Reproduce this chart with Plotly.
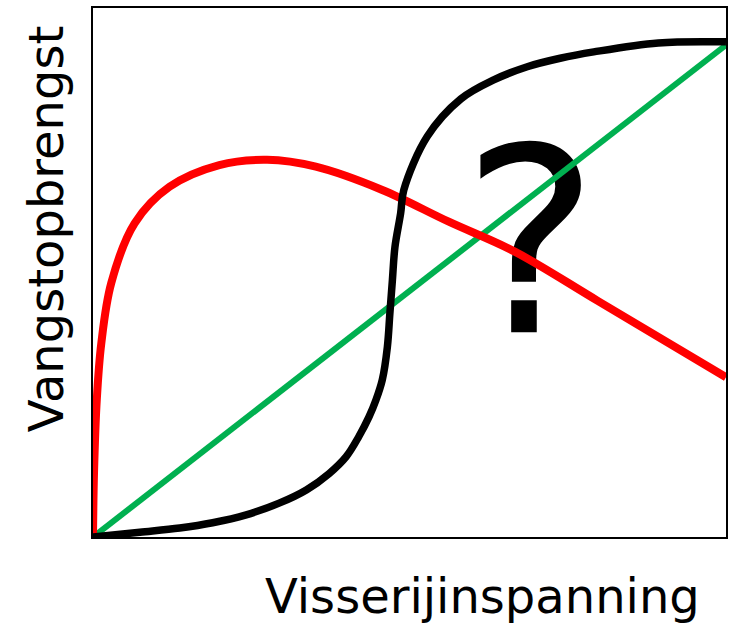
import plotly.graph_objects as go

# ---------------- data (x = effort, y = yield, both 0-100) ----------------
green_x = [0, 100]
green_y = [0, 93.0]

red_x = [0, 0.16, 0.6, 1.3, 2.88, 6.57, 12.08, 19.95, 27.5, 35.2, 45.7,
         56.2, 66.7, 79.8, 100]
red_y = [0, 12.1, 26.0, 36.5, 48.0, 59.3, 66.2, 70.3, 71.3, 70.0, 65.6,
         59.6, 53.9, 44.6, 30.2]

black_x = [0, 7.4, 13.7, 18.9, 24.2, 29.4, 33.7, 37.3, 40.0, 42.0, 43.6,
           44.7, 45.7, 46.5, 46.9, 47.3, 47.7, 48.6, 49.1, 52.8,
           58.1, 63.3, 68.6, 73.8, 79.1, 89.3, 100]
black_y = [0, 0.9, 1.7, 2.7, 4.2, 6.4, 8.9, 12.0, 15.2, 19.0, 22.7,
           25.9, 29.7, 35.9, 42.3, 48.6, 54.8, 61.2, 65.6, 75.7,
           82.8, 86.4, 88.9, 90.5, 91.7, 93.4, 93.6]

mark_x = [69.1]
mark_y = [50.9]
mark_text = ["?"]

FONT = "DejaVu Sans, Verdana, sans-serif"

fig = go.Figure()

# vraagteken onder de lijnen
fig.add_trace(go.Scatter(
    x=mark_x, y=mark_y, text=mark_text, mode='text',
    textposition='middle center',
    textfont=dict(size=258, color='black', family=FONT),
    hoverinfo='skip'
))

fig.add_trace(go.Scatter(
    x=green_x, y=green_y, mode='lines',
    line=dict(color='#00B050', width=6)
))

fig.add_trace(go.Scatter(
    x=red_x, y=red_y, mode='lines',
    line=dict(color='#FF0000', width=8, shape='spline', smoothing=1.0)
))

fig.add_trace(go.Scatter(
    x=black_x, y=black_y, mode='lines',
    line=dict(color='black', width=7.5, shape='spline', smoothing=1.0)
))

axis_style = dict(showgrid=False, zeroline=False, showticklabels=False,
                  ticks='', showline=True, linecolor='black', linewidth=1.5,
                  mirror=True)

fig.update_layout(
    width=732, height=626,
    margin=dict(l=93, r=4, t=8, b=89),
    paper_bgcolor='white', plot_bgcolor='white',
    showlegend=False,
    xaxis=dict(range=[0, 100], **axis_style),
    yaxis=dict(range=[0, 100], **axis_style),
    font=dict(family=FONT, color='black'),
    annotations=[
        dict(text="Visserijinspanning", xref='paper', yref='paper',
             x=0.616, y=-0.112, xanchor='center', yanchor='middle',
             showarrow=False, font=dict(size=48, family=FONT, color='black')),
        dict(text="Vangstopbrengst", xref='paper', yref='paper',
             x=-0.075, y=0.581, xanchor='center', yanchor='middle',
             textangle=-90, showarrow=False,
             font=dict(size=48, family=FONT, color='black')),
    ]
)

fig.write_html("out.html", config={'displayModeBar': False},
               post_script="document.body.style.margin='0';")
